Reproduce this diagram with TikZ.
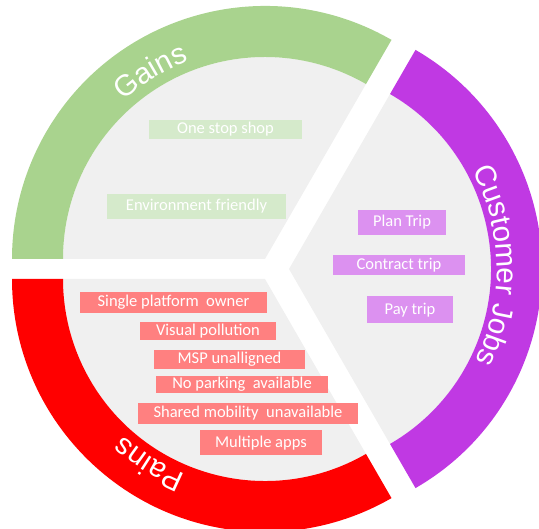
\documentclass[tikz,border=0pt]{standalone}
\usepackage{fontspec}
\setmainfont{Carlito}
\newfontfamily\ringfont{Liberation Sans}
\usetikzlibrary{calc,decorations.text}

\definecolor{pieGrey}{HTML}{F0F0F0}
\definecolor{gainRing}{HTML}{A9D38E}
\definecolor{jobRing}{HTML}{C039E3}
\definecolor{painRing}{HTML}{FF0000}
\definecolor{gainBox}{HTML}{D5EACB}
\definecolor{jobBox}{HTML}{DC91F0}
\definecolor{painBox}{HTML}{FF8080}

\newcommand\pieOut{253}
\newcommand\pieIn{202}

\tikzset{
  item/.style={inner sep=0pt, text=white, font=\fontsize{16.5}{18}\selectfont},
  gainitem/.style={item, fill=gainBox},
  jobitem/.style={item, fill=jobBox},
  painitem/.style={item, fill=painBox},
  ringlabel/.style={decorate, decoration={text along path, text align=center,
      text color=white, text={|\ringfont\fontsize{29.5}{32}\selectfont|#1}}}
}

\begin{document}
\begin{tikzpicture}[x=1pt,y=1pt]
\useasboundingbox (0,0) rectangle (539,529);
\clip (0,0) rectangle (539,529);

% apex of each segment of the exploded disc
\coordinate (G) at (265,270);
\coordinate (J) at (289,260);
\coordinate (P) at (265,250);

% grey inner sectors
\fill[pieGrey] (G) -- ($(G)+(60:\pieIn)$) arc[start angle=60,end angle=180,radius=\pieIn] -- cycle;
\fill[pieGrey] (J) -- ($(J)+(-60:\pieIn)$) arc[start angle=-60,end angle=60,radius=\pieIn] -- cycle;
\fill[pieGrey] (P) -- ($(P)+(180:\pieIn)$) arc[start angle=180,end angle=300,radius=\pieIn] -- cycle;

% coloured outer bands
\fill[gainRing] ($(G)+(60:\pieOut)$) arc[start angle=60,end angle=180,radius=\pieOut]
  -- ($(G)+(180:\pieIn)$) arc[start angle=180,end angle=60,radius=\pieIn] -- cycle;
\fill[jobRing] ($(J)+(-60:\pieOut)$) arc[start angle=-60,end angle=60,radius=\pieOut]
  -- ($(J)+(60:\pieIn)$) arc[start angle=60,end angle=-60,radius=\pieIn] -- cycle;
\fill[painRing] ($(P)+(180:\pieOut)$) arc[start angle=180,end angle=300,radius=\pieOut]
  -- ($(P)+(300:\pieIn)$) arc[start angle=300,end angle=180,radius=\pieIn] -- cycle;

% band titles written along the arcs
\path[ringlabel={Gains}] ($(G)+(161.5:212)$) arc[start angle=161.5,end angle=81.5,radius=212];
\path[ringlabel={Customer Jobs}] ($(J)+(61:208)$) arc[start angle=61,end angle=-59,radius=208];
\path[ringlabel={Pains}] ($(P)+(278:211)$) arc[start angle=278,end angle=198,radius=211];

% gains
\node[gainitem, minimum width=153pt, minimum height=19pt] (g1) at (225.5,399.5) {One stop shop};
\node[gainitem, minimum width=179pt, minimum height=25pt] (g2) at (196.5,322.5) {Environment friendly};

% customer jobs
\node[jobitem, minimum width=88pt, minimum height=25pt] (j1) at (402,306.5) {Plan Trip};
\node[jobitem, minimum width=132pt, minimum height=20pt] (j2) at (399,264) {Contract trip};
\node[jobitem, minimum width=86pt, minimum height=27pt] (j3) at (410,219) {Pay trip};

% pains
\node[painitem, minimum width=187pt, minimum height=21pt] (p1) at (173.5,226.5) {Single platform\ \ owner};
\node[painitem, minimum width=136pt, minimum height=18pt] (p2) at (208,198) {Visual pollution};
\node[painitem, minimum width=151pt, minimum height=19pt] (p3) at (229.5,169.5) {MSP unalligned};
\node[painitem, minimum width=172pt, minimum height=17pt] (p4) at (242,144.5) {No parking\ \ available};
\node[painitem, minimum width=220pt, minimum height=21pt] (p5) at (248,115.5) {Shared mobility\ \ unavailable};
\node[painitem, minimum width=122pt, minimum height=25pt] (p6) at (261,86) {Multiple apps};
\end{tikzpicture}
\end{document}
